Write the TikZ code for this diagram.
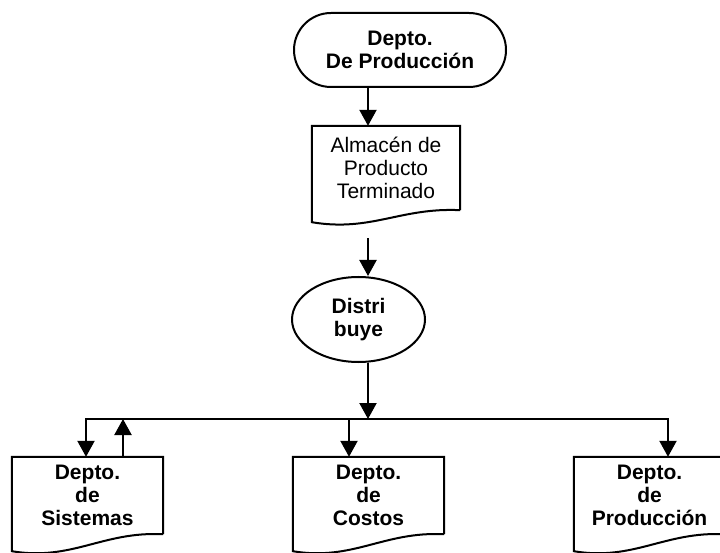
\documentclass[tikz,border=0pt]{standalone}
\usepackage{fontspec}
\setmainfont{Liberation Sans}
\usetikzlibrary{arrows.meta,shapes.geometric}
\begin{document}
\begin{tikzpicture}[x=1pt,y=-1pt,
  every node/.style={font=\fontsize{21}{23}\selectfont, align=center, inner sep=0pt},
  outline/.style={draw=black, line width=2pt},
  flow/.style={line width=2.2pt, -{Triangle[length=16pt,width=17pt]}},
  boldtext/.style={font=\fontsize{21}{23}\selectfont\bfseries},
  % a tall empty strut on the first line sets the text a little lower in its box
  sink/.style={execute at begin node={\rule{0pt}{#1}}},
  terminal/.style={outline, boldtext, sink=23pt, rounded corners=37pt, minimum width=212pt, minimum height=74pt},
  decision/.style={outline, boldtext, ellipse, minimum width=133pt, minimum height=85pt},
  docbox/.style={minimum width=151pt, minimum height=77pt},
]
\clip (0,0) rectangle (720,553);

% nodes
\node[terminal] (dep) at (400,50) {Depto.\\De Producción};
\node[docbox, minimum width=148pt, minimum height=84pt] (alm) at (386,168) {Almacén de\\Producto\\Terminado};
\node[decision] (dis) at (358.5,319.5) {Distri\\buye};
\node[docbox, boldtext, sink=25.5pt] (sis) at (87.5,495.5) {Depto.\\de\\Sistemas};
\node[docbox, boldtext, sink=25.5pt] (cos) at (368.5,495.5) {Depto.\\de\\Costos};
\node[docbox, boldtext, sink=25.5pt] (pro) at (649.5,495.5) {Depto.\\de\\Producción};

% document outlines with a wavy bottom edge
\foreach \n/\w/\d in {alm/148/12, sis/151/17, cos/151/17, pro/151/17} {
  \draw[outline, line join=miter]
    (\n.south east) -- (\n.north east) -- (\n.north west) -- ([yshift=-\d pt]\n.south west)
    .. controls ([xshift={0.4*\w*1pt}, yshift={-(\d+10)*1pt}]\n.south west)
       and ([xshift={0.6*\w*1pt}, yshift=3pt]\n.south west) .. (\n.south east);
}

% connector positions
\coordinate (axis) at (368,0);
\coordinate (busL) at (86,419);
\coordinate (busR) at (668,419);
\coordinate (upS) at (123,419);
\coordinate (costIn) at (349,419);
\path (alm.south -| axis) ++(0,28) coordinate (almOut);

% connectors
\draw[flow] (dep.south -| axis) -- (alm.north -| axis);
\draw[flow] (almOut) -- (dis.north -| axis);
\draw[flow] (dis.south -| axis) -- (axis |- busL);
\draw[flow] (busR) -- (busL) -- (sis.north -| busL);
\draw[flow] (busL) -- (busR) -- (pro.north -| busR);
\draw[flow] (sis.north -| upS) -- (upS);
\draw[flow] (costIn) -- (cos.north -| costIn);
\end{tikzpicture}
\end{document}
